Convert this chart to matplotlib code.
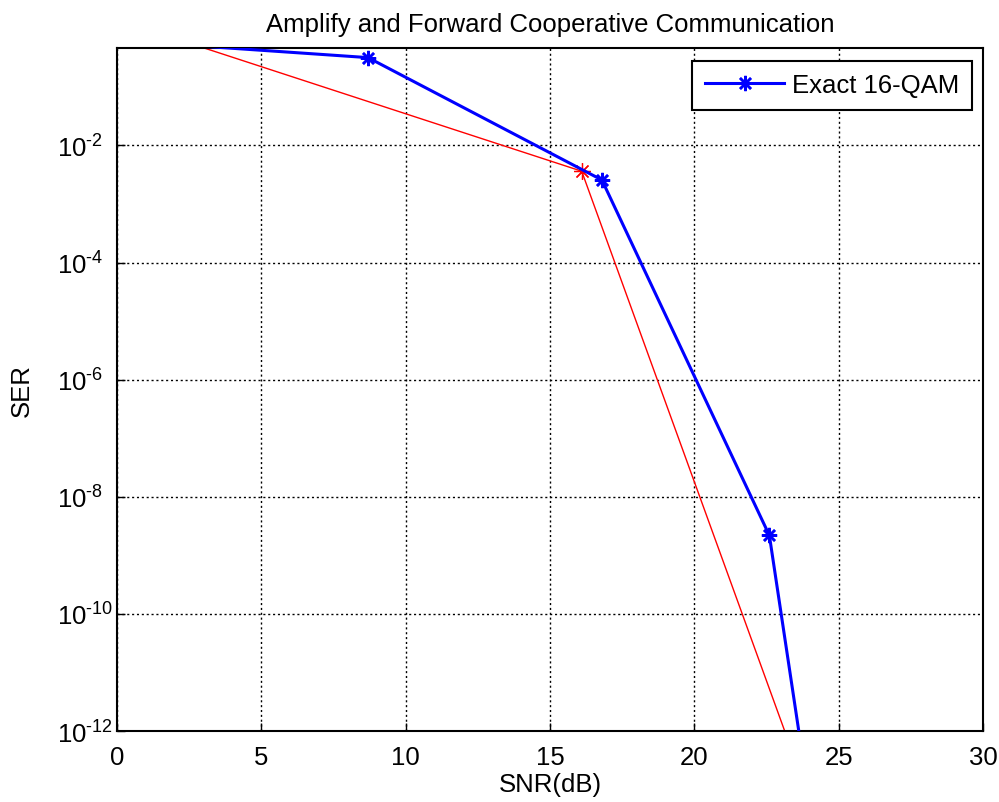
import numpy as np
import matplotlib
matplotlib.use("Agg")
import matplotlib.pyplot as plt
from matplotlib.ticker import FixedFormatter

plt.rcParams["font.family"] = ["Liberation Sans", "DejaVu Sans"]
plt.rcParams["mathtext.fontset"] = "custom"
plt.rcParams["mathtext.rm"] = "Liberation Sans"
plt.rcParams["axes.unicode_minus"] = False

# --- DATA ---
snr_exact = [2.8, 8.7, 16.8, 22.6, 28.5]
ser_exact = [10**-0.30, 10**-0.50, 10**-2.59, 10**-8.66, 10**-28.0]

snr_approx = [2.8, 16.1, 28.5]
ser_approx = [10**-0.30, 10**-2.44, 10**-19.3]

x_ticks = [0, 5, 10, 15, 20, 25, 30]
y_exponents = [-12, -10, -8, -6, -4, -2]

FS = 18.5
ASTERISK = (8, 2, 0)  # MATLAB-style '*' marker

fig = plt.figure(figsize=(9.99, 8.03), dpi=100)
ax = fig.add_axes([0.117, 0.0884, 0.867, 0.851])

ax.semilogy(snr_exact, ser_exact, color='#0000ff', linewidth=2.2, marker=ASTERISK,
            markersize=11, markeredgewidth=1.8, markevery=slice(1, None),
            label='Exact 16-QAM', zorder=3)
ax.semilogy(snr_approx, ser_approx, color='#ff0000', linewidth=1.0, marker=ASTERISK,
            markersize=12, markeredgewidth=0.9, markevery=slice(1, None), zorder=2)

ax.set_xlim(0, 30)
ax.set_ylim(1e-12, 10**-0.33)
ax.set_xticks(x_ticks)
ax.set_yticks([10.0**e for e in y_exponents])
# MATLAB style: "10" base aligned, exponent with a plain hyphen
ax.yaxis.set_major_formatter(FixedFormatter(
    [r'$\mathregular{10^{%s}}$' % ('\u2010' + str(-e)) for e in y_exponents]))
ax.minorticks_off()
ax.tick_params(direction='in', length=6, width=1, labelsize=FS)
ax.tick_params(axis='x', pad=10)
ax.tick_params(axis='y', pad=43)
for lab in ax.get_yticklabels():
    lab.set_horizontalalignment('left')

for sp in ax.spines.values():
    sp.set_linewidth(1.5)
    sp.set_color('black')

ax.grid(True, color='black', linestyle=(0, (1.5, 2)), linewidth=1)

ax.set_title("Amplify and Forward Cooperative Communication", fontsize=FS, pad=12)
ax.set_xlabel("SNR(dB)", fontsize=FS, labelpad=2)
ax.set_ylabel("SER", fontsize=FS, labelpad=17)

leg = ax.legend(loc='upper right', fontsize=FS, fancybox=False, framealpha=1,
                edgecolor='black', borderpad=0.5, handlelength=3.1,
                handletextpad=0.3, borderaxespad=0,
                bbox_to_anchor=(0.9875, 0.981))
leg.get_frame().set_linewidth(1.5)

fig.savefig("out.png", dpi=100)
